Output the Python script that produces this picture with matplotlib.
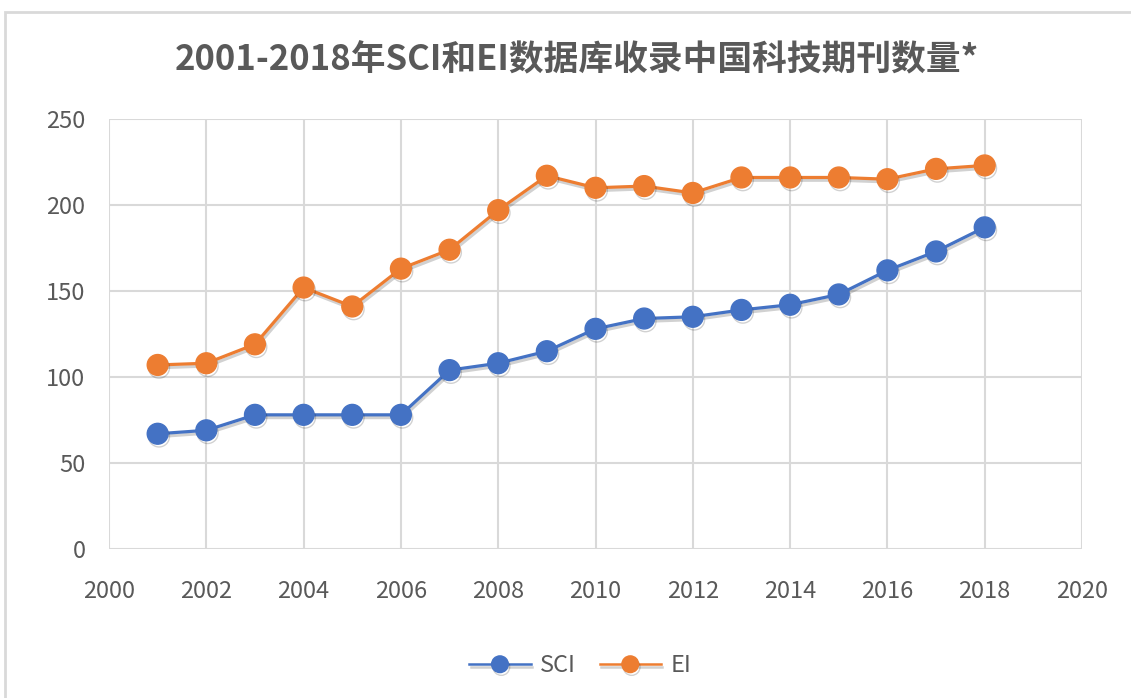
import matplotlib
matplotlib.use("Agg")
import matplotlib.pyplot as plt
import matplotlib.patheffects as pe
from matplotlib.patches import Rectangle

plt.rcParams['font.family'] = ['Noto Sans CJK SC', 'DejaVu Sans']

# dados
years = list(range(2001, 2019))
sci = [67, 69, 78, 78, 78, 78, 104, 108, 115, 128, 134, 135, 139, 142, 148, 162, 173, 187]
ei = [107, 108, 119, 152, 141, 163, 174, 197, 217, 210, 211, 207, 216, 216, 216, 215, 221, 223]
title = "2001-2018年SCI和EI数据库收录中国科技期刊数量*"

fig = plt.figure(figsize=(11.31, 6.98), dpi=100)
fig.patches.append(Rectangle((5 / 1131, -0.05), 1.1, 1 - 12 / 698 + 0.05,
                             transform=fig.transFigure, fill=False,
                             edgecolor="#d9d9d9", linewidth=2))

ax = fig.add_axes([109 / 1131, 1 - 549 / 698, 973 / 1131, 430 / 698])

l1, = ax.plot(years, sci, color="#4472C4", marker="o", markersize=15, linewidth=2.3,
              label="SCI", zorder=3)
l2, = ax.plot(years, ei, color="#ED7D31", marker="o", markersize=15, linewidth=2.3,
              label="EI", zorder=3)
for l in (l1, l2):
    l.set_path_effects([pe.SimpleLineShadow(offset=(1, -2), alpha=0.18), pe.Normal()])

ax.set_xlim(2000, 2020)
ax.set_ylim(0, 250)
ax.set_xticks(range(2000, 2021, 2))
ax.set_yticks(range(0, 251, 50))
ax.grid(True, color="#d9d9d9", linewidth=1.5)
ax.set_axisbelow(True)
for s in ax.spines.values():
    s.set_visible(False)
ax.tick_params(length=0, labelsize=17, colors="#595959")
ax.tick_params(axis="x", pad=22)
ax.tick_params(axis="y", pad=17)

fig.text(0.51, 1 - 60 / 698, title, ha="center", va="center", fontsize=25,
         fontweight="bold", color="#595959")

leg = fig.legend(handles=[l1, l2], loc="center", bbox_to_anchor=(0.513, 1 - 666 / 698),
                 ncol=2, frameon=False, fontsize=17, handlelength=2.6,
                 columnspacing=1.0, handletextpad=0.4, markerscale=0.8)
for t in leg.get_texts():
    t.set_color("#595959")
for h in leg.get_lines():
    h.set_linewidth(1.8)

fig.savefig("out.png", dpi=100)
